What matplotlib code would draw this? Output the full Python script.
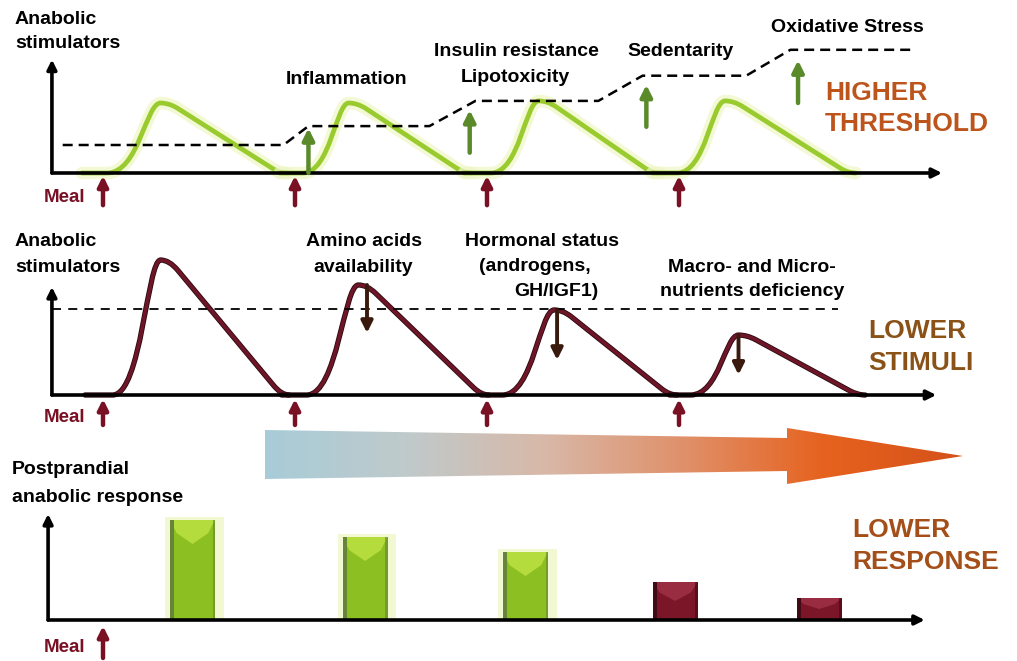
import numpy as np
import matplotlib.pyplot as plt
from matplotlib.path import Path
from matplotlib.patches import PathPatch, Polygon, Rectangle
from matplotlib.colors import LinearSegmentedColormap

plt.rcParams['font.family'] = ['Liberation Sans', 'DejaVu Sans']

W, H = 1017, 661

# time axis, one unit per meal interval
meal_t = [0, 1, 2, 3]

# top panel: anabolic stimuli vs rising threshold
top_start = [-0.11, 0.92, 1.88, 2.86]
top_rise = [0.02, 1.04, 2.02, 2.99]
top_peak_t = [0.30, 1.28, 2.27, 3.24]
top_peak_h = [1.00, 1.00, 1.03, 1.03]
top_end = [0.92, 1.88, 2.86, 3.88]
thr_t = [-0.21, 0.94, 1.07, 1.70, 1.94, 2.58, 2.81, 3.35, 3.58, 4.22]
thr_y = [0.40, 0.40, 0.67, 0.67, 1.03, 1.03, 1.39, 1.39, 1.76, 1.76]
factor_t = [1.07, 1.91, 2.83, 3.62]
factor_from = [0.00, 0.29, 0.66, 1.00]
factor_to = [0.64, 0.90, 1.26, 1.61]

# middle panel: lower stimuli vs fixed threshold
mid_start = [-0.094, 0.93, 1.97, 2.95]
mid_rise = [0.05, 1.06, 2.08, 3.06]
mid_peak_t = [0.30, 1.33, 2.35, 3.31]
mid_peak_h = [1.00, 0.815, 0.63, 0.444]
mid_end = [0.93, 1.97, 2.95, 3.93]
mid_thr = 0.637
drop_t = [1.375, 2.365, 3.31]
drop_from = [0.815, 0.63, 0.444]
drop_to = [0.46, 0.26, 0.15]

# bottom panel: postprandial anabolic response
bar_t = [0.466, 1.365, 2.20, 2.98, 3.73]
bar_h = [1.00, 0.83, 0.68, 0.38, 0.22]
bar_kind = ['g', 'g', 'g', 'r', 'r']

XL = (-103 / 192, 914 / 192)


def pulse(ts, tr, tp, h, te):
    # smooth rise to a rounded peak, then a straight decay back to zero
    k = 0.045
    s = h / (te - tp - k)
    span = tp - tr
    verts = [(ts, 0), (tr, 0),
             (tr + 0.6 * span, 0), (tp - 0.28 * span, h), (tp, h),
             (tp + k, h), (tp + 2 * k, h - s * k),
             (te - 0.04, s * 0.04), (te, 0), (te + 0.04, 0)]
    codes = [Path.MOVETO, Path.LINETO, Path.CURVE4, Path.CURVE4, Path.CURVE4,
             Path.CURVE3, Path.CURVE3, Path.LINETO, Path.CURVE3, Path.CURVE3]
    return Path(verts, codes)


def arrow(ax, x0, y0, x1, y1, color, lw=2.5, ms=14):
    ax.annotate('', xy=(x1, y1), xytext=(x0, y0),
                arrowprops=dict(arrowstyle='-|>', color=color, lw=lw,
                                mutation_scale=ms, shrinkA=0, shrinkB=0))


def ftext(x, y, s, **kw):
    kw.setdefault('fontweight', 'bold')
    kw.setdefault('va', 'center')
    fig.text(x / W, 1 - y / H, s, **kw)


fig = plt.figure(figsize=(W / 100, H / 100), dpi=100)

ax1 = fig.add_axes([0, 1 - 220 / H, 1, 220 / H])
ax1.set_ylim(-(220 - 173) / 70, 173 / 70)
ax2 = fig.add_axes([0, 1 - 430 / H, 1, 210 / H])
ax2.set_ylim(-(430 - 395) / 135, (395 - 220) / 135)
ax3 = fig.add_axes([0, 0, 1, 231 / H])
ax3.set_ylim(-(661 - 620) / 100, (620 - 430) / 100)
for ax in (ax1, ax2, ax3):
    ax.set_xlim(*XL)
    ax.axis('off')

meal_red = '#7a1024'
green = '#9acb2e'
maroon = '#6e1628'

# ---- top panel
arrow(ax1, -0.266, 0, -0.266, 1.62, 'k', lw=2.6)
arrow(ax1, -0.266, 0, 4.37, 0, 'k', lw=2.6)
for i in range(4):
    p = pulse(top_start[i], top_rise[i], top_peak_t[i], top_peak_h[i], top_end[i])
    ax1.add_patch(PathPatch(p, fill=False, ec='#eef6c4', lw=9, alpha=0.7,
                            capstyle='round', joinstyle='round'))
    ax1.add_patch(PathPatch(p, fill=False, ec=green, lw=3.4,
                            capstyle='round', joinstyle='round'))
ax1.plot(thr_t, thr_y, color='k', lw=1.8, ls=(0, (4, 2.4)))
for t, a, b in zip(factor_t, factor_from, factor_to):
    arrow(ax1, t, a, t, b, '#5a8a2a', lw=3.2, ms=17)
for t in meal_t:
    arrow(ax1, t, -0.46, t, -0.04, meal_red, lw=3.2, ms=15)

# ---- middle panel
arrow(ax2, -0.266, 0, -0.266, 0.80, 'k', lw=2.6)
arrow(ax2, -0.266, 0, 4.34, 0, 'k', lw=2.6)
ax2.plot([-0.266, 3.83], [mid_thr, mid_thr], color='k', lw=1.3, ls=(0, (5, 4)))
for i in range(4):
    p = pulse(mid_start[i], mid_rise[i], mid_peak_t[i], mid_peak_h[i], mid_end[i])
    ax2.add_patch(PathPatch(p, fill=False, ec='#2a0a10', lw=3.8,
                            capstyle='round', joinstyle='round'))
    ax2.add_patch(PathPatch(p, fill=False, ec=maroon, lw=2.6,
                            capstyle='round', joinstyle='round'))
for t, a, b in zip(drop_t, drop_from, drop_to):
    arrow(ax2, t, a, t, b, '#3a1a0c', lw=2.8, ms=17)
for t in meal_t:
    arrow(ax2, t, -0.222, t, -0.03, meal_red, lw=3.2, ms=15)

# ---- bottom panel
arrow(ax3, -0.286, 0, -0.286, 1.06, 'k', lw=2.6)
arrow(ax3, -0.286, 0, 4.28, 0, 'k', lw=2.6)
arrow(ax3, 0, -0.38, 0, -0.06, meal_red, lw=3.2, ms=15)
bw = 0.234
styles = {'g': ('#8cbf22', '#b4dc3c', '#66843a'),
          'r': ('#7b1528', '#9a2c42', '#420a16')}
for t, h, k in zip(bar_t, bar_h, bar_kind):
    face, light, dark = styles[k]
    x0, x1 = t - bw / 2, t + bw / 2
    if k == 'g':
        ax3.add_patch(Rectangle((x0 - 0.025, 0), bw + 0.07, h + 0.03,
                                color='#f2f9d2', lw=0))
    ax3.bar(t, h, width=bw, color=face, lw=0)
    dip = min(0.24, h * 0.5)
    ax3.add_patch(Polygon([(x0, h), (x1, h), (x1 - 0.035, h - dip * 0.55),
                           (t, h - dip), (x0 + 0.035, h - dip * 0.55)],
                          closed=True, color=light, lw=0))
    ax3.add_patch(Rectangle((x0, 0), 0.022, h, color=dark, lw=0))
    ax3.add_patch(Rectangle((x1 - 0.012, 0), 0.012, h, color=dark, lw=0, alpha=0.6))

# ---- gradient arrow (overlay in pixel coords)
ov = fig.add_axes([0, 0, 1, 1])
ov.patch.set_alpha(0)
cmap = LinearSegmentedColormap.from_list(
    'g', ['#a8ccd8', '#bfcacb', '#d8b8a8', '#e0906a', '#e6621e', '#d4521a'])
grad = np.linspace(0, 1, 256)[None, :]
im = ov.imshow(grad, extent=[265, 965, 486, 426], aspect='auto', cmap=cmap)
shape = Polygon([(265, 430), (787, 438), (787, 428), (963, 456),
                 (787, 484), (787, 471), (265, 479)],
                closed=True, fc='none', ec='none')
ov.add_patch(shape)
im.set_clip_path(shape)
ov.set_xlim(0, W)
ov.set_ylim(H, 0)
ov.axis('off')

# ---- text
fs = 14
ftext(15, 19, 'Anabolic', fontsize=fs)
ftext(15, 44, 'stimulators', fontsize=fs)
ftext(347, 79, 'Inflammation', fontsize=fs, ha='center')
ftext(516, 52, 'Insulin resistance', fontsize=fs, ha='center')
ftext(515, 77, 'Lipotoxicity', fontsize=fs, ha='center')
ftext(681, 52, 'Sedentarity', fontsize=fs, ha='center')
ftext(847, 27, 'Oxidative Stress', fontsize=fs, ha='center')
ftext(825, 93, 'HIGHER', fontsize=19, color='#bc541c')
ftext(825, 124, 'THRESHOLD', fontsize=19, color='#bc541c')

ftext(15, 242, 'Anabolic', fontsize=fs)
ftext(15, 268, 'stimulators', fontsize=fs)
ftext(364, 242, 'Amino acids', fontsize=fs, ha='center')
ftext(363, 268, 'availability', fontsize=fs, ha='center')
ftext(542, 242, 'Hormonal status', fontsize=fs, ha='center')
ftext(535, 267, '(androgens,', fontsize=fs, ha='center')
ftext(556, 292, 'GH/IGF1)', fontsize=fs, ha='center')
ftext(752, 268, 'Macro- and Micro-', fontsize=fs, ha='center')
ftext(752, 292, 'nutrients deficiency', fontsize=fs, ha='center')
ftext(868, 331, 'LOWER', fontsize=19, color='#8a5216')
ftext(868, 363, 'STIMULI', fontsize=19, color='#8a5216')

ftext(12, 469, 'Postprandial', fontsize=fs)
ftext(12, 497, 'anabolic response', fontsize=fs)
ftext(852, 530, 'LOWER', fontsize=19, color='#a44e1a')
ftext(852, 562, 'RESPONSE', fontsize=19, color='#a44e1a')

for y in (198, 418, 648):
    ftext(44, y, 'Meal', fontsize=13.5, color=meal_red)

fig.savefig('out.png', dpi=100)
